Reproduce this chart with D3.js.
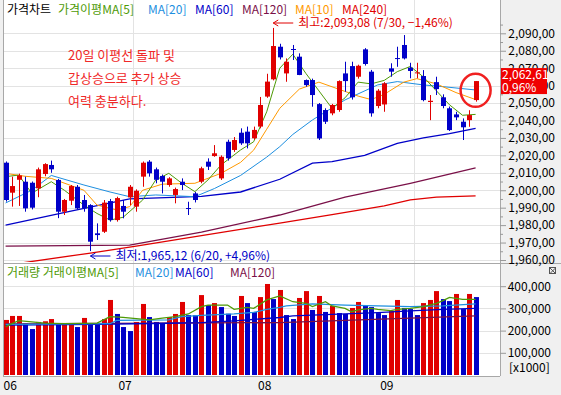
<!DOCTYPE html>
<html>
<head>
<meta charset="utf-8">
<script src="https://cdn.jsdelivr.net/npm/d3@7/dist/d3.min.js"></script>
<style>
body { margin: 0; background: #f0f0f0; }
svg text { font-family: "Noto Sans CJK KR", "Noto Sans", sans-serif; font-size: 12px; }
</style>
</head>
<body>
<div id="container"></div>
<script>
// 일봉 데이터 (시가, 고가, 저가, 종가)
var opens  = [2015.8,1998.6,2006.0,2004.9,2004.3,2001.1,2009.3,2014.5,2005.9,1987.7,
              1994.0,2002.0,1994.4,1991.5,1975.3,1976.2,1993.8,1982.9,1991.0,1995.9,
              1990.6,2007.8,2016.4,2012.0,2008.2,2003.0,1997.3,2004.9,1989.8,1998.2,
              2004.9,2016.4,2019.6,2006.8,2027.8,2023.1,2033.0,2033.6,2029.8,2036.5,
              2053.7,2063.6,2082.3,2067.0,2081.0,2076.6,2063.2,2063.2,2049.4,2046.0,
              2044.1,2046.0,2067.0,2071.2,2065.1,2080.8,2068.0,2048.3,2049.2,2069.9,
              2075.8,2083.3,2070.3,2067.3,2065.5,2050.6,2062.0,2053.3,2047.0,2043.5,
              2039.3,2040.2,2051.7];
var highs  = [2016.5,2007.8,2009.5,2007.8,2005.0,2013.0,2015.5,2017.0,2006.5,1995.0,
              2003.0,2003.0,1997.3,1992.0,1981.0,1994.4,1995.0,1996.3,1994.4,2003.0,
              2000.5,2016.5,2017.3,2013.0,2009.0,2007.5,2001.5,2006.8,1993.4,1999.0,
              2013.5,2018.3,2025.9,2020.0,2029.0,2030.5,2035.5,2036.5,2036.5,2053.5,
              2066.8,2093.08,2084.0,2075.6,2083.3,2078.5,2063.5,2064.0,2050.0,2047.0,
              2049.5,2063.0,2073.7,2073.7,2072.0,2081.5,2069.0,2058.0,2062.0,2072.8,
              2082.3,2089.0,2073.1,2073.1,2068.9,2054.6,2065.1,2055.0,2048.0,2045.0,
              2041.2,2045.9,2062.61];
var lows   = [1993.5,1990.6,1991.0,1987.7,1989.0,1996.0,2008.0,2010.0,1984.0,1985.8,
              1991.5,1989.0,1987.7,1965.12,1971.5,1975.5,1982.0,1982.0,1983.9,1991.5,
              1987.7,2002.0,2007.8,2004.0,1998.2,2002.0,1992.5,2000.1,1985.8,1993.0,
              2004.0,2011.6,2019.2,2005.9,2017.0,2022.0,2026.0,2024.0,2029.0,2035.5,
              2053.0,2063.0,2075.0,2062.2,2074.7,2066.0,2059.4,2047.9,2028.8,2038.0,
              2043.0,2045.0,2056.5,2052.0,2064.0,2071.5,2042.2,2047.0,2045.0,2065.1,
              2070.8,2075.0,2064.2,2064.2,2051.0,2040.2,2054.6,2047.0,2034.0,2040.2,
              2028.8,2036.4,2050.8];
var closes = [1994.4,2002.4,2008.5,1989.6,1990.0,2012.0,2015.0,2012.0,1987.7,1994.4,
              2002.4,1989.6,1989.6,1970.5,1974.3,1992.9,1982.9,1995.5,1987.7,2002.0,
              1999.7,2015.8,2009.7,2006.0,2004.9,2006.8,2000.7,2003.0,1989.4,1994.4,
              2012.6,2013.5,2021.2,2019.2,2018.3,2028.8,2026.9,2026.9,2034.6,2048.9,
              2062.3,2082.7,2076.2,2073.7,2080.6,2066.1,2060.3,2054.6,2029.7,2039.3,
              2048.9,2062.6,2062.6,2053.3,2071.4,2072.4,2044.1,2057.1,2061.3,2068.0,
              2075.4,2075.6,2068.4,2067.6,2051.7,2051.3,2058.0,2048.3,2034.5,2041.8,
              2036.1,2043.1,2062.61];

// 거래량 (x1000)
var volumes = [248000,266000,266000,233000,207000,239000,242000,252000,228000,230000,
               232000,216000,257000,229000,228000,252000,338000,275000,216000,198000,
               239000,320000,261000,239000,233000,261000,275000,329000,270000,269000,
               360000,315000,324000,306000,276000,266000,356000,324000,284000,351000,
               410000,342000,383000,270000,252000,347000,378000,293000,356000,284000,
               311000,279000,275000,302000,329000,315000,306000,279000,270000,288000,
               338000,302000,297000,270000,324000,338000,378000,342000,333000,365000,
               297000,365000,351000];

// 이동평균선 (차트에서 읽은 값: [일자 순번, 값])
var priceMA5 = [[0,2007.8],[2,2008.7],[4,1998.3],[7,2004.9],[9,2000],[12,1991.5],[14,1986.7],[16,1982.9],
                [18,1984.5],[21,1994.4],[23,2005.9],[25,2009.7],[27,2004],[29,1999.2],[31,2005.9],[33,2014.5],
                [36,2023.1],[38,2027.8],[40,2045],[42,2070],[44,2078],[46,2067],[48,2057],[50,2047],
                [52,2053],[54,2062],[56,2061],[58,2063],[60,2068],[62,2071],[64,2065],[66,2057],
                [68,2049],[70,2043],[72,2043.5]];
var priceMA10 = [[0,2009.7],[3,2008],[7,2006.8],[12,2000],[14,1991.5],[17,1988.7],[19,1990.6],[21,2000],
                 [24,2003.5],[29,2004],[33,2009.7],[36,2016],[38,2023],[40,2035],[42,2047],[45,2058],
                 [48,2062],[51,2058],[54,2054],[56,2052],[58,2055],[61,2062],[63,2064],[66,2061],
                 [69,2056],[72,2052]];
var priceMA20 = [[0,1992.7],[4,2000],[7,2008.5],[12,2003],[16,1999],[19,1996.3],[23,1997.3],[29,1996.3],
                 [32,2001],[36,2008.5],[40,2019],[42,2025],[44,2032],[47,2040.3],[52,2051.8],[57,2060.4],
                 [60,2062.3],[64,2060.4],[67,2059.4],[72,2057.5]];
var priceMA60 = [[0,1980],[10,1988],[19,1995],[30,1996.5],[36,1999],[42,2006.3],[47,2015.5],[50,2016.4],
                 [55,2020],[60,2026.9],[64,2030],[68,2032.5],[72,2035.5]];
var priceMA120 = [[0,1968],[19,1968.5],[30,1976],[42,1985.8],[52,1996],[62,2004],[72,2012.8]];
var priceMA240 = [[0,1957],[13,1964],[20,1968],[30,1974],[42,1981.2],[50,1986],[58,1991],[62,1994.5],
                  [66,1996],[72,1996.8]];

var volMA5 = [[0,218000],[2,245000],[4,239000],[6,234000],[9,231000],[14,234000],[16,263000],[18,260000],
              [20,254000],[22,248000],[24,256000],[26,263000],[28,275000],[30,308000],[31,315000],[34,315000],
              [35,296000],[37,305000],[38,300000],[40,338000],[42,356000],[44,330000],[46,323000],[47,308000],
              [49,330000],[50,311000],[52,300000],[53,285000],[54,293000],[56,300000],[57,296000],[59,290000],
              [60,296000],[62,300000],[64,308000],[66,323000],[67,335000],[68,350000],[70,341000],[72,341000]];
var volMA20 = [[0,228000],[16,231000],[17,246000],[25,248000],[27,263000],[30,269000],[35,275000],[38,282000],
               [40,296000],[42,305000],[43,311000],[47,320000],[52,315000],[57,311000],[62,308000],[67,311000],
               [72,320000]];
var volMA60 = [[0,225000],[14,228000],[25,233000],[30,236000],[35,244000],[42,259000],[44,266000],[52,275000],
               [57,281000],[62,289000],[67,296000],[72,300000]];
var volMA120 = [[0,230000],[42,236000],[72,266000]];

// 축 눈금
var priceTicks = [2090,2080,2070,2060,2050,2040,2030,2020,2010,2000,1990,1980,1970,1960];
var volTicks = [400000,300000,200000,100000];
var monthLabels = ["06","07","08","09"];
var monthPos = [0,17.6,39,57.7];
var monthGrid = [19.5,62.5];

var prevClose = 2043.0;

var W = 561, H = 395;
var svg = d3.select("div#container").append("svg").attr("width",W).attr("height",H);

var plotL = 3, plotR = 500, priceTop = 0, priceBot = 263, volTop = 263, volBot = 376;

var x = d3.scaleLinear().domain([0, closes.length - 1]).range([5.6, 475.6]);
var y = d3.scaleLinear().domain([1960, 2090]).range([260, 33.3]);
var yv = d3.scaleLinear().domain([0, 400000]).range([375, 286.2]);

var RED = "#e00000", BLUE = "#0000c8";
var fmt2 = function(v) { return d3.format(",.2f")(v).replace(/\.(\d\d)$/, ",$1"); };

// 패널 배경
svg.append("rect").attr("x",plotL).attr("y",priceTop).attr("width",plotR-plotL).attr("height",priceBot-priceTop)
   .attr("fill","#fff");
svg.append("rect").attr("x",plotL).attr("y",volTop).attr("width",plotR-plotL).attr("height",volBot-volTop)
   .attr("fill","#fff");

svg.append("clipPath").attr("id","clipP").append("rect")
   .attr("x",plotL+1).attr("y",priceTop+1).attr("width",plotR-plotL-2).attr("height",priceBot-priceTop-2);
svg.append("clipPath").attr("id","clipV").append("rect")
   .attr("x",plotL+1).attr("y",volTop+1).attr("width",plotR-plotL-2).attr("height",volBot-volTop-2);

// 격자
var grid = svg.append("g").attr("stroke","#e3e3e3").attr("stroke-width",1);
grid.selectAll("line.hp").data(priceTicks).enter().append("line")
    .attr("x1",plotL).attr("x2",plotR).attr("y1",d => Math.round(y(d))+0.5).attr("y2",d => Math.round(y(d))+0.5);
grid.selectAll("line.hv").data(volTicks).enter().append("line")
    .attr("x1",plotL).attr("x2",plotR).attr("y1",d => Math.round(yv(d))+0.5).attr("y2",d => Math.round(yv(d))+0.5);
grid.selectAll("line.vg").data(monthGrid).enter().append("line")
    .attr("x1",d => Math.round(x(d))+0.5).attr("x2",d => Math.round(x(d))+0.5)
    .attr("y1",priceTop).attr("y2",volBot);

// 테두리
svg.append("line").attr("x1",plotL+0.5).attr("x2",plotL+0.5).attr("y1",0).attr("y2",volBot).attr("stroke","#a8a8a8");
svg.append("line").attr("x1",plotR+0.5).attr("x2",plotR+0.5).attr("y1",0).attr("y2",volBot).attr("stroke","#a8a8a8");
svg.append("line").attr("x1",plotL).attr("x2",W).attr("y1",priceBot+0.5).attr("y2",priceBot+0.5).attr("stroke","#a8a8a8");
svg.append("line").attr("x1",plotL).attr("x2",plotR).attr("y1",volBot+0.5).attr("y2",volBot+0.5).attr("stroke","#a8a8a8");

// 이동평균선
var lineP = d3.line().x(d => x(d[0])).y(d => y(d[1]));
var lineV = d3.line().x(d => x(d[0])).y(d => yv(d[1]));
var gP = svg.append("g").attr("clip-path","url(#clipP)");
var gV = svg.append("g").attr("clip-path","url(#clipV)");

[[priceMA240,"#e00000",1.3],[priceMA120,"#7a1048",1.3],[priceMA60,"#0000c8",1.3],
 [priceMA20,"#1e8fe0",1],[priceMA10,"#ff9900",1],[priceMA5,"#4e9a06",1]].forEach(function(s) {
  gP.append("path").datum(s[0]).attr("d",lineP).attr("fill","none").attr("stroke",s[1]).attr("stroke-width",s[2]);
});

// 캔들
var idx = d3.range(closes.length);
var candles = gP.selectAll("g.c").data(idx).enter().append("g");
candles.append("line")
  .attr("x1",i => Math.round(x(i))+0.5).attr("x2",i => Math.round(x(i))+0.5)
  .attr("y1",i => y(highs[i])).attr("y2",i => y(lows[i]))
  .attr("stroke",i => closes[i] >= opens[i] ? RED : BLUE);
candles.append("rect")
  .attr("x",i => Math.round(x(i))-2).attr("width",5)
  .attr("y",i => y(Math.max(opens[i],closes[i])))
  .attr("height",i => Math.max(1, Math.abs(y(opens[i]) - y(closes[i]))))
  .attr("fill",i => closes[i] >= opens[i] ? RED : BLUE);

// 거래량 막대
gV.selectAll("rect.v").data(idx).enter().append("rect")
  .attr("x",i => Math.round(x(i))-2).attr("width",5)
  .attr("y",i => yv(volumes[i])).attr("height",i => yv(0) - yv(volumes[i]))
  .attr("fill",i => (i === 0 || volumes[i] >= volumes[i-1]) ? RED : BLUE);

[[volMA120,"#7a1048",1.3],[volMA60,"#0000c8",1.3],[volMA20,"#1e8fe0",1.3],[volMA5,"#4e9a06",1.3]].forEach(function(s) {
  gV.append("path").datum(s[0]).attr("d",lineV).attr("fill","none").attr("stroke",s[1]).attr("stroke-width",s[2]);
});

// 오른쪽 가격축
var axP = svg.append("g").attr("transform","translate("+plotR+",0)")
  .call(d3.axisRight(y).tickValues(priceTicks).tickSize(6).tickFormat(fmt2));
svg.append("g").attr("transform","translate("+plotR+",0)")
  .call(d3.axisRight(y).tickValues(priceTicks.map(d => d + 5)).tickSize(3).tickFormat(""))
  .select(".domain").remove();
axP.select(".domain").remove();
axP.selectAll(".tick text").attr("x",55).attr("text-anchor","end").attr("fill","#000")
   .style("font-size","12px");
svg.selectAll(".tick line").attr("stroke","#999");

var axV = svg.append("g").attr("transform","translate("+plotR+",0)")
  .call(d3.axisRight(yv).tickValues(volTicks).tickSize(6).tickFormat(d3.format(",")));
axV.select(".domain").remove();
axV.selectAll(".tick line").attr("stroke","#999");
axV.selectAll(".tick text").attr("x",51).attr("text-anchor","end").attr("fill","#000").style("font-size","12px");
svg.append("text").attr("x",509).attr("y",372).text("[x1000]");

// 닫기 아이콘
var ic = svg.append("g").attr("transform","translate(549,267)");
ic.append("rect").attr("x",0.5).attr("y",0.5).attr("width",6).attr("height",6).attr("fill","none").attr("stroke","#555");
ic.append("path").attr("d","M1,1L6.5,6.5M6.5,1L1,6.5").attr("stroke","#555");

// 월 라벨
var axX = svg.append("g").attr("transform","translate(0,"+volBot+")")
  .call(d3.axisBottom(x).tickValues(monthPos).tickSize(0).tickFormat((d,i) => monthLabels[i]));
axX.select(".domain").remove();
axX.selectAll(".tick text").attr("text-anchor","start").attr("dx",-2.6).attr("dy",0).attr("y",14)
   .attr("fill","#000").style("font-size","12px");

// 현재가 표시
var last = closes[closes.length - 1];
var boxY = y(last) - 13;
svg.append("rect").attr("x",501).attr("y",boxY).attr("width",46).attr("height",26).attr("fill","#f00000");
svg.append("text").attr("x",502).attr("y",boxY+11).attr("fill","#fff").text(fmt2(last));
svg.append("text").attr("x",502).attr("y",boxY+24).attr("fill","#fff")
   .text(fmt2(last / prevClose * 100 - 100) + "%");

// 범례
var legP = [["가격차트","#000",7],["가격이평MA[5]","#4e9a06",58],["MA[20]","#1e8fe0",148],
            ["MA[60]","#0000c8",195],["MA[120]","#7a1048",242],["MA[10]","#ff9900",295],["MA[240]","#e00000",342]];
legP.forEach(function(l) { svg.append("text").attr("x",l[2]).attr("y",14).attr("fill",l[1]).text(l[0]); });
var legV = [["거래량 거래이평MA[5]","#4e9a06",7],["MA[20]","#1e8fe0",135],["MA[60]","#0000c8",175],["MA[120]","#7a1048",230]];
legV.forEach(function(l) { svg.append("text").attr("x",l[2]).attr("y",277).attr("fill",l[1]).text(l[0]); });

// 최고 / 최저
var hi = d3.maxIndex(highs), lo = d3.minIndex(lows);
var hx = x(hi), hy = 23;
svg.append("path").attr("d","M"+hx+","+hy+"h20M"+hx+","+hy+"l5,-3M"+hx+","+hy+"l5,3")
   .attr("stroke",RED).attr("fill","none");
svg.append("text").attr("x",hx+25).attr("y",hy+4).attr("fill",RED)
   .text("최고:" + fmt2(highs[hi]) + " (7/30, " + fmt2(last / highs[hi] * 100 - 100) + "%)");
var lx = x(lo), ly = 256;
svg.append("path").attr("d","M"+lx+","+ly+"h20M"+lx+","+ly+"l5,-3M"+lx+","+ly+"l5,3")
   .attr("stroke",BLUE).attr("fill","none");
svg.append("text").attr("x",lx+25).attr("y",ly+4).attr("fill",BLUE)
   .text("최저:" + fmt2(lows[lo]) + " (6/20, +" + fmt2(last / lows[lo] * 100 - 100) + "%)");

// 코멘트
var memo = ["20일 이평선 돌파 및","갑상승으로 추가 상승","여력 충분하다."];
svg.selectAll("text.memo").data(memo).enter().append("text")
   .attr("x",68).attr("y",(d,i) => 60 + i*23).attr("fill","#f02828").style("font-size","13px").text(d => d);

// 마지막 캔들 강조 원
var li = closes.length - 1;
svg.append("ellipse").attr("cx",x(li)).attr("cy",(y(highs[li]) + y(lows[li]))/2 - 1)
   .attr("rx",15).attr("ry",16.5).attr("fill","none").attr("stroke","#f02020").attr("stroke-width",2.5);
</script>
</body>
</html>
